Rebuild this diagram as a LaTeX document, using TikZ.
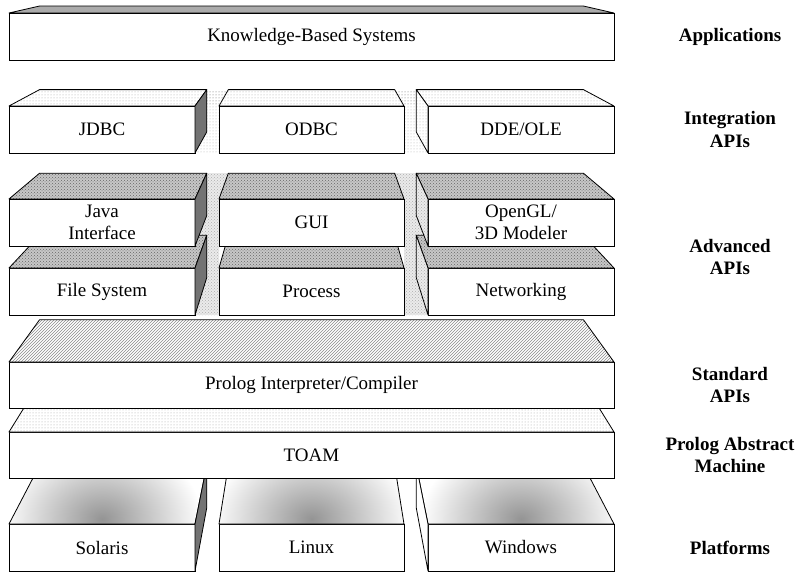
\documentclass[tikz,border=0pt]{standalone}
\usepackage{fontspec}
\setmainfont{Liberation Serif}
\usetikzlibrary{positioning,calc,patterns,backgrounds}
\tikzstyle{slab}=[draw, fill=white, line width=0.8pt, inner sep=0pt, outer sep=0pt, minimum height=47pt, minimum width=186pt, align=center, font=\fontsize{19}{21.5}\selectfont]
\tikzstyle{wide}=[slab, minimum width=605pt]
\tikzstyle{layer}=[align=center, font=\fontsize{19}{22.5}\selectfont\bfseries]
\tikzstyle{face}=[draw, line width=0.8pt, line join=round]
\tikzstyle{gray top}=[face, fill=black!33]
\tikzstyle{dot top}=[face, preaction={fill=white}, pattern=dots, pattern color=black!35]
\tikzstyle{dot strip}=[preaction={fill=white}, pattern=dots, pattern color=black!60]
\tikzstyle{dot side}=[face, preaction={fill=white}, pattern=dots, pattern color=black!30]
\tikzstyle{dot gap}=[preaction={fill=white}, pattern=dots, pattern color=black!30]
\tikzstyle{check top}=[face, preaction={fill=black!22}, pattern=crosshatch dots, pattern color=black!60]
\tikzstyle{check side}=[face, preaction={fill=black!8}, pattern=crosshatch dots, pattern color=black!32]
\tikzstyle{check gap}=[preaction={fill=black!8}, pattern=crosshatch dots, pattern color=black!32]
\tikzstyle{hatch top}=[face, preaction={fill=white}, pattern=north east lines, pattern color=black!45]
\tikzstyle{dark side}=[face, fill=black!55]
\tikzstyle{plain side}=[face, fill=white]
\newcommand{\dep}{0.899}
\newcommand{\topface}[2]{\path[#2] (#1.north west) -- (#1.north east) -- ($(vp)!\dep!(#1.north east)$) -- ($(vp)!\dep!(#1.north west)$) -- cycle;}
\newcommand{\rside}[2]{\path[#2] (#1.north east) -- ($(vp)!\dep!(#1.north east)$) -- ($(vp)!\dep!(#1.south east)$) -- (#1.south east) -- cycle;}
\newcommand{\lside}[2]{\path[#2] (#1.north west) -- ($(vp)!\dep!(#1.north west)$) -- ($(vp)!\dep!(#1.south west)$) -- (#1.south west) -- cycle;}

\begin{document}
\begin{tikzpicture}[x=1pt,y=-1pt]
    \useasboundingbox (0,0) rectangle (798,572);
    \coordinate (vp) at (311.5,-56);

    % platforms
    \node[slab] (solaris) at (102,547.5) {Solaris};
    \node[slab, minimum width=185pt] (linux) [right=24pt of solaris] {Linux};
    \node[slab] (windows) [right=24pt of linux] {Windows};
    \foreach \p in {solaris,linux,windows} {
        \begin{scope}
            \topface{\p}{clip}
            \shade[inner color=black!42, outer color=white] ([yshift=5pt]\p.north) ellipse (100 and 78);
        \end{scope}
        \topface{\p}{face}
    }
    \rside{solaris}{dark side}
    \lside{windows}{plain side}

    % TOAM and interpreter
    \node[wide, minimum height=46pt] (toam) at (311.5,455) {TOAM};
    \topface{toam}{dot top}
    \node[wide, minimum height=46pt] (prolog) at (311.5,385) {Prolog Interpreter/Compiler};
    \topface{prolog}{hatch top}

    % advanced APIs, two rows
    \node[slab] (filesys) at (102,291.5) {File System};
    \node[slab, minimum width=185pt] (process) [right=24pt of filesys] {Process};
    \node[slab] (network) [right=24pt of process] {Networking};
    \foreach \p in {filesys,process,network} {\topface{\p}{check top}}
    \rside{filesys}{dark side}
    \lside{network}{check side}

    \node[slab] (java) at (102,222.5) {Java\\Interface};
    \node[slab, minimum width=185pt] (gui) [right=24pt of java] {GUI};
    \node[slab] (opengl) [right=24pt of gui] {OpenGL/\\3D Modeler};
    \foreach \p in {java,gui,opengl} {\topface{\p}{check top}}
    \rside{java}{dark side}
    \lside{opengl}{check side}

    % integration APIs
    \node[slab] (jdbc) at (102,129.5) {JDBC};
    \node[slab, minimum width=185pt] (odbc) [right=24pt of jdbc] {ODBC};
    \node[slab] (ddeole) [right=24pt of odbc] {DDE/OLE};
    \foreach \p in {jdbc,odbc,ddeole} {\topface{\p}{dot top}}
    \rside{jdbc}{dark side}
    \lside{ddeole}{dot side}

    % applications
    \node[wide] (kbs) at (311.5,36.5) {Knowledge-Based Systems};
    \topface{kbs}{gray top}

    % what shows through the gaps
    \begin{scope}[on background layer]
        \path[check gap] (java.north east) -- ($(vp)!\dep!(java.north east)$) -- ($(vp)!\dep!(gui.north west)$) -- (gui.north west) -- (process.south west) -- (filesys.south east) -- cycle;
        \path[check gap] (gui.north east) -- ($(vp)!\dep!(gui.north east)$) -- ($(vp)!\dep!(opengl.north west)$) -- (opengl.north west) -- (network.south west) -- (process.south east) -- cycle;
        \path[dot strip] (jdbc.north east) -- ($(vp)!\dep!(jdbc.north east)$) -- ($(vp)!\dep!(odbc.north west)$) -- (odbc.north west) -- cycle;
        \path[dot gap] (jdbc.north east) -- (odbc.north west) -- (odbc.south west) -- (jdbc.south east) -- cycle;
        \path[dot strip] (odbc.north east) -- ($(vp)!\dep!(odbc.north east)$) -- ($(vp)!\dep!(ddeole.north west)$) -- (ddeole.north west) -- cycle;
        \path[dot gap] (odbc.north east) -- (ddeole.north west) -- (ddeole.south west) -- (odbc.south east) -- cycle;
    \end{scope}

    \node[layer] (lapp) at (730,36.5) {Applications};
    \node[layer] (lint) at (730,129.5) {Integration\\APIs};
    \node[layer] (ladv) at (730,257) {Advanced\\APIs};
    \node[layer] (lstd) at (730,385) {Standard\\APIs};
    \node[layer] (lpam) at (730,455) {Prolog Abstract\\Machine};
    \node[layer] (lplat) at (730,547.5) {Platforms};
\end{tikzpicture}
\end{document}
